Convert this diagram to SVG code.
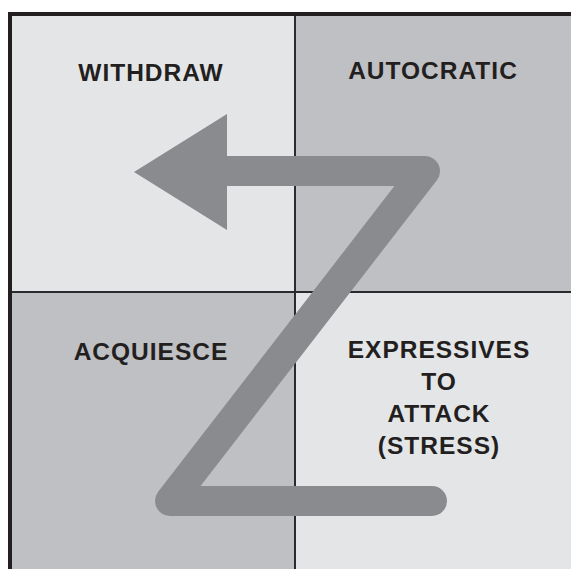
<svg xmlns="http://www.w3.org/2000/svg" width="571" height="569" viewBox="0 0 571 569">
<style>
.lbl{font-family:"Liberation Sans",Arial,sans-serif;font-weight:bold;font-size:24.5px;letter-spacing:1px;fill:#231f20;text-anchor:middle}
.light{fill:#e4e5e7}
.dark{fill:#bfc0c3}
.div{stroke:#2b2b2d;stroke-width:2;fill:none}
</style>
<rect width="571" height="569" fill="#ffffff"/>
<g id="quad-withdraw">
<rect class="light" x="10" y="14" width="285" height="278"/>
<text class="lbl" x="151" y="81">WITHDRAW</text>
</g>
<g id="quad-autocratic">
<rect class="dark" x="295" y="14" width="276" height="278"/>
<text class="lbl" x="433" y="79">AUTOCRATIC</text>
</g>
<g id="quad-acquiesce">
<rect class="dark" x="10" y="292" width="285" height="277"/>
<text class="lbl" x="151" y="360">ACQUIESCE</text>
</g>
<g id="quad-expressives">
<rect class="light" x="295" y="292" width="276" height="277"/>
<text class="lbl" x="439" y="358">EXPRESSIVES</text>
<text class="lbl" x="439" y="390">TO</text>
<text class="lbl" x="439" y="422">ATTACK</text>
<text class="lbl" x="439" y="454">(STRESS)</text>
</g>
<g id="frame">
<line class="div" x1="295" y1="14" x2="295" y2="569"/>
<line class="div" x1="10" y1="292" x2="571" y2="292"/>
<path d="M10 569 V14 H571" fill="none" stroke="#231f20" stroke-width="4"/>
</g>
<g id="connectors">
<path d="M432 501 H170 L425 171 H215" fill="none" stroke="#8a8b8e" stroke-width="30" stroke-linejoin="round" stroke-linecap="round"/>
<polygon points="134,172 227,114 227,230" fill="#8a8b8e"/>
</g>
</svg>
